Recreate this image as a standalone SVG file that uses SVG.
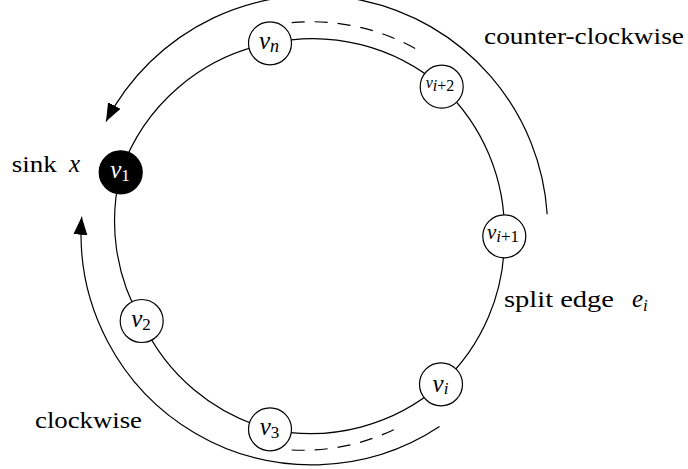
<svg xmlns="http://www.w3.org/2000/svg" width="688" height="469" viewBox="0 0 688 469">
<defs>
<style>
.edge{fill:none;stroke:#000;stroke-width:1.2}
.dash{fill:none;stroke:#000;stroke-width:1.2;stroke-dasharray:13 10}
.node{fill:#fff;stroke:#000;stroke-width:1.2}
.sink{fill:#000;stroke:#000;stroke-width:1.2}
.lbl{font-size:24px;fill:#000}
.mi{font-style:italic;fill:#000}
.up{font-style:normal}
.w{fill:#fff}
</style>
<marker id="arr" markerUnits="userSpaceOnUse" markerWidth="20" markerHeight="16" refX="18" refY="7" orient="auto">
<path d="M0,0 L18,7 L0,14 Z" fill="#000"/>
</marker>
</defs>
<g id="connectors">
<path class="edge" d="M120.7,172.3 A197,197 0 0 0 141.7,321"/>
<path class="edge" d="M141.7,321 A197,197 0 0 0 270,429.3"/>
<path class="edge" d="M270,429.3 A197,197 0 0 0 441,384.3"/>
<path class="edge" d="M441,384.3 A197,197 0 0 0 504.3,236.3"/>
<path class="edge" d="M504.3,236.3 A197,197 0 0 0 441.7,86.7"/>
<path class="edge" d="M441.7,86.7 A197,197 0 0 0 270,43.3"/>
<path class="edge" d="M270,43.3 A197,197 0 0 0 120.7,172.3"/>
<path class="edge" marker-end="url(#arr)" d="M547.2,214.3 A234,234 0 0 0 106,121.5"/>
<path class="edge" marker-end="url(#arr)" d="M439.5,426.6 A231,231 0 0 1 81.7,216.7"/>
<path class="dash" d="M291.7,22.7 A213,213 0 0 1 423.3,53.3"/>
<path class="dash" d="M291.7,450 A214,214 0 0 0 396.7,428.3"/>
</g>
<g id="v1">
<circle class="sink" cx="120.7" cy="172.3" r="21.5"/>
<text class="mi w" x="120" y="177.5" font-family="Liberation Serif, DejaVu Serif, serif" font-size="25" text-anchor="middle">v<tspan class="up w" font-size="17" dy="3">1</tspan></text>
</g>
<g id="v2">
<circle class="node" cx="141.7" cy="321" r="21.5"/>
<text class="mi" x="141" y="326.5" font-family="Liberation Serif, DejaVu Serif, serif" font-size="25" text-anchor="middle">v<tspan class="up" font-size="17" dy="3">2</tspan></text>
</g>
<g id="v3">
<circle class="node" cx="270" cy="429.3" r="21.5"/>
<text class="mi" x="269.5" y="434.5" font-family="Liberation Serif, DejaVu Serif, serif" font-size="25" text-anchor="middle">v<tspan class="up" font-size="17" dy="3">3</tspan></text>
</g>
<g id="vi">
<circle class="node" cx="441" cy="384.3" r="21.5"/>
<text class="mi" x="440.5" y="392" font-family="Liberation Serif, DejaVu Serif, serif" font-size="25" text-anchor="middle">v<tspan font-size="17" dy="2">i</tspan></text>
</g>
<g id="vi1">
<circle class="node" cx="504.3" cy="236.3" r="21.5"/>
<text class="mi" x="503" y="239" font-family="Liberation Serif, DejaVu Serif, serif" font-size="21" text-anchor="middle">v<tspan font-size="17" dy="3">i</tspan><tspan class="up" font-size="17">+1</tspan></text>
</g>
<g id="vi2">
<circle class="node" cx="441.7" cy="86.7" r="21.5"/>
<text class="mi" x="440" y="88" font-family="Liberation Serif, DejaVu Serif, serif" font-size="16" text-anchor="middle">v<tspan font-size="16" dy="3">i</tspan><tspan class="up" font-size="16">+2</tspan></text>
</g>
<g id="vn">
<circle class="node" cx="270" cy="43.3" r="21.5"/>
<text class="mi" x="269" y="48.5" font-family="Liberation Serif, DejaVu Serif, serif" font-size="25" text-anchor="middle">v<tspan font-size="18" dy="3">n</tspan></text>
</g>
<g id="labels">
<text class="lbl" x="11.7" y="172" font-family="Liberation Serif, DejaVu Serif, serif" textLength="45" lengthAdjust="spacingAndGlyphs">sink</text>
<text class="mi" x="69" y="172" font-family="Liberation Serif, DejaVu Serif, serif" font-size="25">x</text>
<text class="lbl" x="484" y="43.5" font-family="Liberation Serif, DejaVu Serif, serif" textLength="200" lengthAdjust="spacingAndGlyphs">counter-clockwise</text>
<text class="lbl" x="35" y="428" font-family="Liberation Serif, DejaVu Serif, serif" textLength="107" lengthAdjust="spacingAndGlyphs">clockwise</text>
<text class="lbl" x="504" y="306.5" font-family="Liberation Serif, DejaVu Serif, serif" textLength="110" lengthAdjust="spacingAndGlyphs">split edge</text>
<text class="mi" x="632" y="306.5" font-family="Liberation Serif, DejaVu Serif, serif" font-size="25">e<tspan font-size="17" dy="4">i</tspan></text>
</g>
</svg>
